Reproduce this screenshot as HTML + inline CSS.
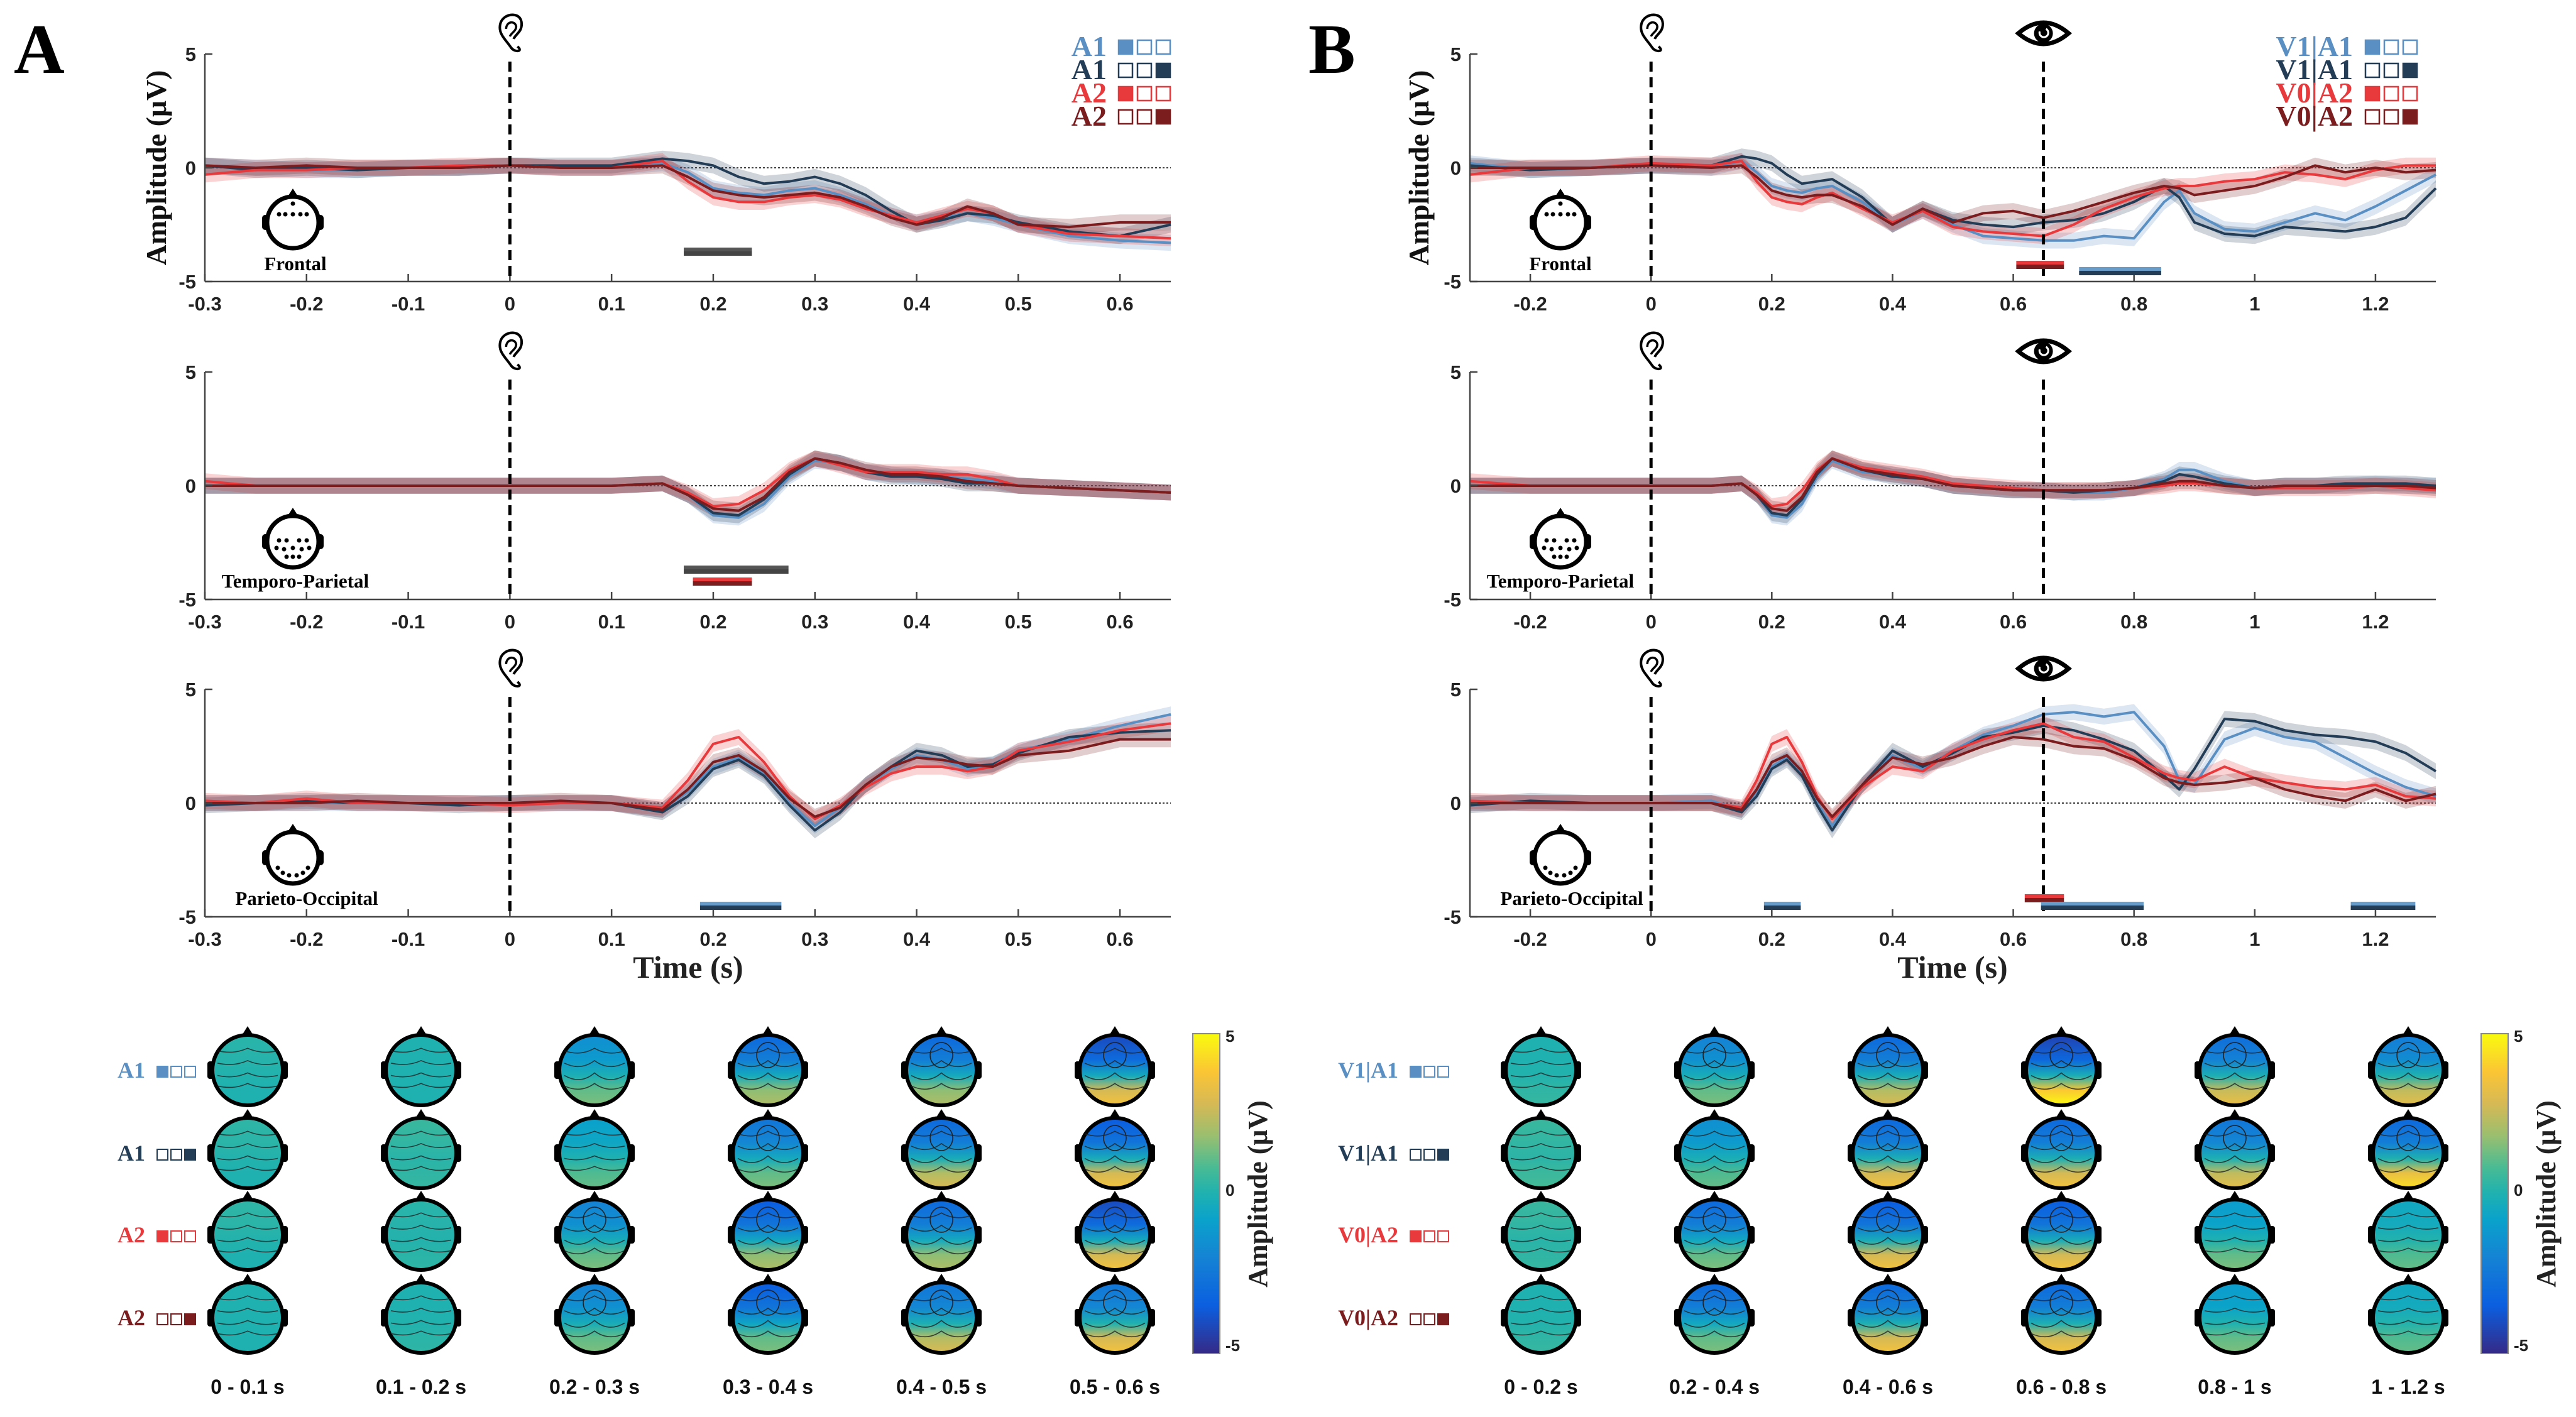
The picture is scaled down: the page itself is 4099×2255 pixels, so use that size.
<!DOCTYPE html>
<html><head><meta charset="utf-8"><style>
html,body{margin:0;padding:0;background:#fff}
svg{display:block}
text{font-family:"Liberation Sans",sans-serif}
.serif{font-family:"Liberation Serif",serif;font-weight:bold}
</style></head>
<body>
<svg id="fig" xmlns="http://www.w3.org/2000/svg" width="4099" height="2255" viewBox="0 0 4099 2255"></svg>
<script>
// ---------- DATA ----------
const timesA=[-0.3,-0.25,-0.2,-0.15,-0.1,-0.05,0,0.05,0.1,0.15,0.175,0.2,0.225,0.25,0.275,0.3,0.325,0.35,0.375,0.4,0.425,0.45,0.475,0.5,0.55,0.6,0.65];
const timesB=[-0.3,-0.2,-0.1,0,0.1,0.15,0.175,0.2,0.225,0.25,0.275,0.3,0.35,0.4,0.45,0.5,0.55,0.6,0.65,0.7,0.75,0.8,0.85,0.875,0.9,0.95,1.0,1.05,1.1,1.15,1.2,1.25,1.3];
const ticksA=[-0.3,-0.2,-0.1,0,0.1,0.2,0.3,0.4,0.5,0.6];
const tickLabelsA=["-0.3","-0.2","-0.1","0","0.1","0.2","0.3","0.4","0.5","0.6"];
const ticksB=[-0.2,0,0.2,0.4,0.6,0.8,1,1.2];
const tickLabelsB=["-0.2","0","0.2","0.4","0.6","0.8","1","1.2"];
const yTicks=[5,0,-5];
const yTickLabels=["5","0","-5"];
// Panel A, Frontal
const aFrLight=[0.1,0,-0.1,-0.1,0,0,0.1,0,0,0.2,-0.2,-0.9,-1.1,-1.2,-1.0,-0.9,-1.2,-1.6,-2.1,-2.4,-2.2,-2.0,-2.2,-2.5,-3.0,-3.2,-3.3];
const aFrNavy=[0.1,-0.1,0,-0.1,0,0,0.1,0.1,0.1,0.4,0.3,0.1,-0.4,-0.7,-0.6,-0.4,-0.7,-1.2,-1.9,-2.5,-2.3,-2.0,-2.1,-2.4,-2.8,-3.0,-2.5];
const aFrRed=[-0.3,-0.1,-0.1,0,0,0.1,0.1,0,0,0.3,-0.6,-1.3,-1.5,-1.5,-1.3,-1.2,-1.4,-1.8,-2.1,-2.4,-2.1,-1.8,-2.0,-2.5,-2.9,-3.0,-3.1];
const aFrDark=[0.1,0,0.1,0,0,0,0.1,0,0,0.1,-0.4,-1.0,-1.2,-1.3,-1.2,-1.1,-1.3,-1.7,-2.2,-2.5,-2.2,-1.7,-2.0,-2.5,-2.6,-2.4,-2.4];
// Panel A, Temporo-Parietal
const aTpLight=[0,0,0,0,0,0,0,0,0,0.1,-0.4,-1.3,-1.4,-0.8,0.4,1.1,1.0,0.6,0.5,0.4,0.4,0.3,0.2,0,-0.1,-0.2,-0.3];
const aTpNavy=[0,0,0,0,0,0,0,0,0,0.1,-0.4,-1.2,-1.3,-0.6,0.5,1.2,1.0,0.6,0.4,0.4,0.3,0.1,0.1,0,-0.1,-0.2,-0.3];
const aTpRed=[0.2,0,0,0,0,0,0,0,0,0.1,-0.3,-0.9,-0.8,-0.2,0.7,1.2,0.9,0.6,0.6,0.6,0.5,0.5,0.3,0,-0.1,-0.2,-0.3];
const aTpDark=[0,0,0,0,0,0,0,0,0,0.1,-0.4,-1.0,-1.1,-0.5,0.6,1.2,1.0,0.7,0.5,0.5,0.4,0.2,0.1,0,-0.1,-0.2,-0.3];
// Panel A, Parieto-Occipital
const aPoLight=[0,0,0,0,0,0,0,0,0,-0.3,0.5,1.6,2.0,1.3,0,-1.0,-0.2,0.8,1.5,2.1,1.9,1.5,1.7,2.3,2.8,3.4,3.9];
const aPoNavy=[-0.1,0,0.1,0,0,-0.1,0,0,0,-0.4,0.3,1.5,1.9,1.2,-0.1,-1.2,-0.4,0.8,1.6,2.3,2.1,1.6,1.7,2.2,2.9,3.1,3.2];
const aPoRed=[0.1,0,0.2,0,0,0,-0.1,0,0,-0.2,1.0,2.6,2.9,1.8,0.3,-0.7,-0.1,0.7,1.3,1.6,1.6,1.4,1.6,2.3,2.7,3.2,3.5];
const aPoDark=[0,0,0,0.1,0,0,0,0.1,0,-0.3,0.6,1.8,2.1,1.4,0.2,-0.6,-0.2,0.8,1.6,2.0,1.9,1.7,1.6,2.1,2.3,2.8,2.8];
// Panel B, Frontal
const bFrLight=[0.2,-0.1,0,0.1,0,0.3,-0.2,-0.8,-1.0,-1.1,-0.9,-0.8,-1.5,-2.5,-1.9,-2.5,-3.0,-3.1,-3.2,-3.2,-3.0,-3.1,-1.5,-1.0,-2.0,-2.7,-2.8,-2.4,-2.0,-2.3,-1.7,-1.0,-0.3];
const bFrNavy=[0.1,-0.1,0,0.1,0.1,0.5,0.4,0.2,-0.3,-0.7,-0.6,-0.5,-1.3,-2.5,-1.8,-2.3,-2.5,-2.6,-2.4,-2.3,-2.0,-1.5,-0.8,-1.3,-2.4,-2.9,-3.0,-2.6,-2.7,-2.8,-2.6,-2.2,-0.9];
const bFrRed=[-0.3,0,0,0.2,0.1,0.3,-0.6,-1.3,-1.5,-1.6,-1.3,-1.1,-1.8,-2.4,-1.9,-2.6,-2.8,-2.9,-3.0,-2.5,-1.8,-1.3,-0.9,-0.8,-0.8,-0.6,-0.5,-0.2,-0.3,-0.5,-0.1,0.1,0.1];
const bFrDark=[0,0,0,0.1,0,0.1,-0.4,-1.0,-1.2,-1.3,-1.2,-1.2,-1.7,-2.5,-1.8,-2.4,-2.0,-1.9,-2.2,-1.9,-1.5,-1.1,-0.8,-0.9,-1.2,-1.0,-0.8,-0.4,0.1,-0.2,0,-0.2,-0.1];
// Panel B, Temporo-Parietal
const bTpLight=[0,0,0,0,0,0.1,-0.4,-1.3,-1.4,-0.8,0.4,1.1,0.6,0.5,0.3,0,-0.1,-0.2,-0.2,-0.3,-0.3,-0.1,0.3,0.7,0.7,0.2,-0.1,0,0,0,0.1,0,0];
const bTpNavy=[0,0,0,0,0,0.1,-0.4,-1.2,-1.3,-0.6,0.5,1.2,0.7,0.4,0.3,0,-0.1,-0.2,-0.2,-0.3,-0.2,-0.1,0.2,0.5,0.4,0.1,-0.1,0,0,0.1,0.1,0.1,0];
const bTpRed=[0.2,0,0,0,0,0.1,-0.3,-0.9,-0.8,-0.2,0.7,1.2,0.8,0.6,0.4,0.1,0,-0.1,-0.2,-0.2,-0.2,-0.1,0,0.1,0.1,0,-0.1,-0.1,-0.1,-0.1,0,-0.1,-0.2];
const bTpDark=[0,0,0,0,0,0.1,-0.4,-1.0,-1.1,-0.5,0.6,1.2,0.7,0.5,0.3,0,-0.1,-0.2,-0.2,-0.2,-0.2,-0.1,0.1,0.2,0.2,0,-0.1,0,0,0,0,0,-0.1];
// Panel B, Parieto-Occipital
const bPoLight=[0,0,0,0,0.1,-0.3,0.5,1.6,2.0,1.3,0,-1.0,0.8,2.1,1.5,2.3,3.0,3.4,3.9,4.0,3.8,4.0,2.5,1.0,0.8,2.8,3.3,2.9,2.7,2.0,1.3,0.7,0.3];
const bPoNavy=[-0.1,0.1,0,0,0,-0.4,0.3,1.5,1.9,1.2,-0.1,-1.2,0.8,2.3,1.6,2.2,2.9,3.1,3.4,3.2,2.8,2.3,1.2,0.6,1.5,3.7,3.6,3.2,3.0,2.9,2.7,2.2,1.4];
const bPoRed=[0.1,0,0,0,0,-0.2,1.0,2.6,2.9,1.8,0.3,-0.7,0.7,1.6,1.4,2.3,2.8,3.2,3.5,2.9,2.7,2.0,1.3,1.1,1.0,1.6,1.1,0.9,0.7,0.6,0.8,0.3,0.2];
const bPoDark=[0,0,0,0,0,-0.3,0.6,1.8,2.1,1.4,0.2,-0.6,0.8,2.0,1.7,2.0,2.5,2.9,2.8,2.5,2.4,1.9,1.1,0.9,0.8,0.9,1.1,0.6,0.3,0.1,0.6,0.1,0.4];
// Significance bars: [row, start time, end time, style]
const sigA=[[0,0.171,0.238,"grey"],[1,0.171,0.274,"grey"],[1,0.18,0.238,"red"],[2,0.187,0.267,"blue"]];
const sigB=[[0,0.605,0.684,"red"],[0,0.709,0.845,"blue"],[2,0.187,0.248,"blue"],[2,0.619,0.684,"red"],[2,0.646,0.816,"blue"],[2,1.159,1.266,"blue"]];
// Topomap values (top / bottom of scalp, µV)
const topoATop=[[0.2,0,-1.5,-3,-3,-4],[0.3,0.5,-0.8,-2.5,-3,-3.5],[0.3,0.2,-2,-3.5,-3,-4],[0,0,-2,-3.5,-2.5,-2.5]];
const topoABot=[[0,0,1.0,1.5,1.5,2.5],[0,0.3,0.8,1.0,2.0,2.5],[0,0.2,1,1.5,1.5,2.5],[0,0.2,1,1,2,2.5]];
const topoBTop=[[0,-2,-3,-4.2,-2.8,-2.2],[0.5,-1.5,-3,-3,-2.5,-3],[0.5,-3,-3.5,-3.5,-1,-0.5],[0,-3,-3,-3,-1,-0.5]];
const topoBBot=[[0.3,1,2,3.5,2.3,2.2],[0.5,0.8,2.5,2.5,2.2,3],[0.3,1,2.5,2.5,1,0.8],[0.3,1,2.5,2.5,1,0.8]];
const topoAWindows=["0 - 0.1 s","0.1 - 0.2 s","0.2 - 0.3 s","0.3 - 0.4 s","0.4 - 0.5 s","0.5 - 0.6 s"];
const topoBWindows=["0 - 0.2 s","0.2 - 0.4 s","0.4 - 0.6 s","0.6 - 0.8 s","0.8 - 1 s","1 - 1.2 s"];

// ---------- LAYOUT ----------
const NS="http://www.w3.org/2000/svg";
const svg=document.getElementById('fig');
const COL={light:"#5a8fc3",navy:"#243d57",red:"#e8393d",dark:"#7b1c1f"};
const rows=[{y0:86,y1:448},{y0:592,y1:954},{y0:1097,y1:1459}];
const panels={
 A:{x0:326,x1:1863,t0:-0.3,t1:0.65,times:timesA,ticks:ticksA,tl:tickLabelsA,sig:sigA,
   series:[[aFrLight,aFrNavy,aFrRed,aFrDark],[aTpLight,aTpNavy,aTpRed,aTpDark],[aPoLight,aPoNavy,aPoRed,aPoDark]],
   headX:466,labX:470},
 B:{x0:2339,x1:3876,t0:-0.3,t1:1.3,times:timesB,ticks:ticksB,tl:tickLabelsB,sig:sigB,
   series:[[bFrLight,bFrNavy,bFrRed,bFrDark],[bTpLight,bTpNavy,bTpRed,bTpDark],[bPoLight,bPoNavy,bPoRed,bPoDark]],
   headX:2483,labX:2483}
};
function el(tag,attrs,parent){const e=document.createElementNS(NS,tag);for(const k in attrs)e.setAttribute(k,attrs[k]);(parent||svg).appendChild(e);return e;}
function txt(s,attrs,parent){const e=el('text',attrs,parent);e.textContent=s;return e;}
function xs(p,t){return p.x0+(t-p.t0)/(p.t1-p.t0)*(p.x1-p.x0);}
function ys(r,v){return rows[r].y0+(5-v)/10*(rows[r].y1-rows[r].y0);}

function earIcon(g,cx,cy){
  el('path',{d:`M${cx+12},${cy+22} C${cx+22},${cy+30} ${cx+8},${cy+32} ${cx+2},${cy+24} C${cx-6},${cy+12} ${cx-16},${cy+4} ${cx-16},${cy-8} C${cx-16},${cy-24} ${cx-2},${cy-30} ${cx+8},${cy-28} C${cx+18},${cy-26} ${cx+20},${cy-16} ${cx+18},${cy-8} C${cx+16},${cy} ${cx+8},${cy+4} ${cx+6},${cy+10}`,fill:'none',stroke:'#000','stroke-width':4},g);
  el('path',{d:`M${cx-6},${cy-6} C${cx-6},${cy-18} ${cx+8},${cy-20} ${cx+10},${cy-10} C${cx+10},${cy-2} ${cx+2},${cy} ${cx},${cy+6}`,fill:'none',stroke:'#000','stroke-width':3.5},g);
}
function eyeIcon(g,cx,cy){
  el('path',{d:`M${cx-40},${cy} Q${cx},${cy-34} ${cx+40},${cy} Q${cx},${cy+34} ${cx-40},${cy} Z`,fill:'#fff',stroke:'#000','stroke-width':7},g);
  el('circle',{cx:cx,cy:cy,r:15,fill:'#000'},g);
  el('path',{d:`M${cx-6},${cy-3} A7,7 0 1 0 ${cx+4},${cy-7}`,fill:'none',stroke:'#fff','stroke-width':3},g);
}
function headIcon(g,cx,cy,kind){
  el('rect',{x:cx-49,y:cy-12,width:12,height:24,rx:5,fill:'#000'},g);
  el('rect',{x:cx+37,y:cy-12,width:12,height:24,rx:5,fill:'#000'},g);
  el('path',{d:`M${cx-9},${cy-40} L${cx},${cy-54} L${cx+9},${cy-40}Z`,fill:'#000'},g);
  el('circle',{cx:cx,cy:cy,r:41,fill:'#fff',stroke:'#000','stroke-width':7},g);
  let pts=[];
  if(kind===0){pts=[[-22,-13],[-12,-13],[0,-13],[12,-13],[22,-13],[0,-30]];}
  else if(kind===1){pts=[[-22,-2],[-10,-2],[10,-2],[22,-2],[-26,10],[-14,12],[0,10],[14,12],[26,10],[-10,24],[10,24],[0,24]];}
  else {pts=[[-24,16],[-16,24],[-6,28],[6,28],[16,24],[24,16]];}
  pts.forEach(p=>el('circle',{cx:cx+p[0],cy:cy+p[1],r:3.5,fill:'#000'},g));
}

const regionNames=["Frontal","Temporo-Parietal","Parieto-Occipital"];
const headYs=[354,862,1365];
const labYs=[430,935,1440];

Object.keys(panels).forEach(key=>{
  const p=panels[key];
  const pg=el('g',{});
  
  
  rows.forEach((r,ri)=>{
    const g=el('g',{},pg);
    
    
    const zl=el('line',{x1:p.x0,x2:p.x1,y1:ys(ri,0),y2:ys(ri,0),stroke:'#000','stroke-width':1.6,'stroke-dasharray':'3 3'},g);
    
    
    const order=[0,1,2,3];
    const names=['light','navy','red','dark'];
    order.forEach(si=>{
      const vals=p.series[ri][si];
      let up='',dn='';
      p.times.forEach((t,i)=>{up+=(i?'L':'M')+xs(p,t).toFixed(1)+','+ys(ri,vals[i]+0.35).toFixed(1);});
      for(let i=p.times.length-1;i>=0;i--){dn+='L'+xs(p,p.times[i]).toFixed(1)+','+ys(ri,vals[i]-0.35).toFixed(1);}
      const band=el('path',{d:up+dn+'Z',fill:COL[names[si]],'fill-opacity':0.22,stroke:'none'},g);
      
      
    });
    order.forEach(si=>{
      const vals=p.series[ri][si];
      let d='';
      p.times.forEach((t,i)=>{d+=(i?'L':'M')+xs(p,t).toFixed(1)+','+ys(ri,vals[i]).toFixed(1);});
      const ln=el('path',{d:d,fill:'none',stroke:COL[names[si]],'stroke-width':4,'stroke-linejoin':'round'},g);
      
      
    });
    el('line',{x1:p.x0,x2:p.x0,y1:r.y0,y2:r.y1,stroke:'#444','stroke-width':2.5},g);
    el('line',{x1:p.x0,x2:p.x1,y1:r.y1,y2:r.y1,stroke:'#444','stroke-width':2.5},g);
    p.ticks.forEach((t,i)=>{
      const x=xs(p,t);
      el('line',{x1:x,x2:x,y1:r.y1,y2:r.y1-12,stroke:'#444','stroke-width':2.5},g);
      const tl=txt(p.tl[i],{x:x,y:r.y1+46,'text-anchor':'middle','font-size':31,'font-weight':'bold',fill:'#222'},g);
      
      
    });
    yTicks.forEach((v,i)=>{
      const y=ys(ri,v);
      el('line',{x1:p.x0,x2:p.x0+12,y1:y,y2:y,stroke:'#444','stroke-width':2.5},g);
      const tl=txt(yTickLabels[i],{x:p.x0-14,y:y+11,'text-anchor':'end','font-size':31,'font-weight':'bold',fill:'#222'},g);
      
      
    });
    const dl=el('line',{x1:xs(p,0),x2:xs(p,0),y1:r.y0+12,y2:r.y1,stroke:'#000','stroke-width':5,'stroke-dasharray':'16 9'},g);
    
    
    const ear=el('g',{},g);
    
    
    earIcon(ear,xs(p,0),r.y0-34);
    if(key==='B'){
      const dl2=el('line',{x1:xs(p,0.65),x2:xs(p,0.65),y1:r.y0+12,y2:r.y1,stroke:'#000','stroke-width':5,'stroke-dasharray':'16 9'},g);
      
      
      const eye=el('g',{},g);
      
      
      eyeIcon(eye,xs(p,0.65),r.y0-33);
    }
    const hi=el('g',{},g);
    
    
    headIcon(hi,p.headX,headYs[ri],ri);
    const rl=txt(regionNames[ri],{x:p.labX+(ri===2?18:0),y:labYs[ri],'text-anchor':'middle','font-size':31,class:'serif'},g);
    
    
  });
  p.sig.forEach(s=>{
    const ri=s[0],xa=xs(p,s[1]),xb=xs(p,s[2]);
    let yb;
    if(key==='A'){yb=ri===0?400:(ri===1?(s[3]==='grey'?906:925):1441);}
    else{yb=ri===0?(s[3]==='red'?421:431):(s[3]==='red'?1429:1441);}
    const c1=s[3]==='grey'?'#555':(s[3]==='red'?'#e8393d':'#6a9cc9');
    const c2=s[3]==='grey'?'#444':(s[3]==='red'?'#7b1c1f':'#243d57');
    const sg=el('g',{},pg);
    
    
    el('rect',{x:xa,y:yb-6,width:xb-xa,height:6,fill:c1},sg);
    el('rect',{x:xa,y:yb,width:xb-xa,height:7,fill:c2},sg);
  });
});

[[250,'a'],[2259,'b']].forEach(o=>{
  const t=txt('Amplitude (\u03BCV)',{x:0,y:0,transform:`translate(${o[0]+14},267) rotate(-90)`,'text-anchor':'middle','font-size':46,class:'serif',fill:'#111'});
  
  
});
[['A',22],['B',2082]].forEach(o=>{
  const t=txt(o[0],{x:o[1],y:116,'font-size':112,class:'serif',fill:'#000'});
  
  
});
[[1095,'a'],[3107,'b']].forEach(o=>{
  const t=txt('Time (s)',{x:o[0],y:1556,'text-anchor':'middle','font-size':50,class:'serif',fill:'#222'});
  
  
});

function squares(g,x,y,color,fillIdx){
  for(let i=0;i<3;i++){
    el('rect',{x:x+i*30,y:y-22,width:22,height:22,fill:i===fillIdx?color:'#fff',stroke:color,'stroke-width':2.5},g);
  }
}
const legA=[['A1',COL.light,0],['A1',COL.navy,2],['A2',COL.red,0],['A2',COL.dark,2]];
const legB=[['V1|A1',COL.light,0],['V1|A1',COL.navy,2],['V0|A2',COL.red,0],['V0|A2',COL.dark,2]];
[[legA,1761,1780,'a'],[legB,3744,3764,'b']].forEach(L=>{
  L[0].forEach((e,i)=>{
    const g=el('g',{});
    
    
    const y=87+i*37;
    txt(e[0],{x:L[1],y:y+2,'text-anchor':'end','font-size':46,class:'serif',fill:e[1]},g);
    squares(g,L[2],y-1,e[1],e[2]);
  });
});

// ---------- TOPOMAPS ----------
const stops=[[0,'#352a87'],[0.15,'#0b5fe0'],[0.3,'#1583d4'],[0.42,'#0aa2cb'],[0.5,'#1fb1b0'],[0.58,'#48bb94'],[0.68,'#99bf6f'],[0.78,'#d6b955'],[0.88,'#fbc535'],[1,'#f9fb0e']];
function hex(c){return [parseInt(c.slice(1,3),16),parseInt(c.slice(3,5),16),parseInt(c.slice(5,7),16)];}
function cmap(v){let f=Math.max(0,Math.min(1,(v+5)/10));
  for(let i=1;i<stops.length;i++){if(f<=stops[i][0]){const a=stops[i-1],b=stops[i];const u=(f-a[0])/(b[0]-a[0]);const A=hex(a[1]),B=hex(b[1]);
    return 'rgb('+A.map((x,k)=>Math.round(x+(B[k]-x)*u)).join(',')+')';}}
  return stops[stops.length-1][1];}
const defs=el('defs',{});
const cg=el('linearGradient',{id:'cbar',x1:0,y1:1,x2:0,y2:0},defs);
stops.forEach(s=>el('stop',{offset:s[0],'stop-color':s[1]},cg));

const rowYs=[1703,1835,1965,2097];
const topoCfg=[
 {key:'a',cols:[394,670,946,1222,1498,1774],top:topoATop,bot:topoABot,win:topoAWindows,labels:legA,labX:231,sqX:250,cb:1898},
 {key:'b',cols:[2452,2728,3004,3280,3556,3832],top:topoBTop,bot:topoBBot,win:topoBWindows,labels:legB,labX:2225,sqX:2244,cb:3948}
];
let gid=0;
topoCfg.forEach(T=>{
  T.labels.forEach((e,ri)=>{
    const g=el('g',{});
    
    
    txt(e[0],{x:T.labX,y:rowYs[ri]+12,'text-anchor':'end','font-size':36,class:'serif',fill:e[1]},g);
    for(let i=0;i<3;i++)el('rect',{x:T.sqX+i*22,y:rowYs[ri]-6,width:17,height:17,fill:i===e[2]?e[1]:'#fff',stroke:e[1],'stroke-width':2},g);
  });
  T.cols.forEach((cx,ci)=>{
    rowYs.forEach((cy,ri)=>{
      const tv=T.top[ri][ci],bv=T.bot[ri][ci];
      const id='tg'+(gid++);
      const lg=el('linearGradient',{id:id,x1:0,y1:0,x2:0,y2:1},defs);
      el('stop',{offset:0.05,'stop-color':cmap(tv)},lg);
      el('stop',{offset:0.35,'stop-color':cmap(tv*0.75)},lg);
      el('stop',{offset:0.58,'stop-color':cmap((tv+bv)/2*0.5)},lg);
      el('stop',{offset:0.78,'stop-color':cmap(bv*1.1)},lg);
      el('stop',{offset:1,'stop-color':cmap(bv*1.45)},lg);
      const g=el('g',{});
      
      
      el('rect',{x:cx-64,y:cy-14,width:11,height:28,rx:4,fill:'#000'},g);
      el('rect',{x:cx+53,y:cy-14,width:11,height:28,rx:4,fill:'#000'},g);
      el('path',{d:`M${cx-10},${cy-54} L${cx},${cy-70} L${cx+10},${cy-54}Z`,fill:'#000'},g);
      el('circle',{cx:cx,cy:cy,r:56,fill:`url(#${id})`,stroke:'#000','stroke-width':6},g);
      [[-0.55,22],[-0.2,32],[0.15,38],[0.45,30]].forEach(c=>{
        const yy=cy+c[0]*56;
        el('path',{d:`M${cx-48},${yy} Q${cx-22},${yy+(tv<-1?c[1]*0.4:6)} ${cx},${yy-4} Q${cx+22},${yy+(tv<-1?c[1]*0.4:6)} ${cx+48},${yy}`,fill:'none',stroke:'#222','stroke-width':1.6,'stroke-opacity':0.8},g);
      });
      if(tv<-1.5)el('ellipse',{cx:cx,cy:cy-24,rx:18,ry:20,fill:'none',stroke:'#222','stroke-width':1.6},g);
    });
    const wl=txt(T.win[ci],{x:cx,y:2218,'text-anchor':'middle','font-size':32,'font-weight':'bold',fill:'#111'});
    
    
  });
  const cb=el('g',{});
  
  
  el('rect',{x:T.cb,y:1645,width:43,height:509,fill:'url(#cbar)',stroke:'#888','stroke-width':2},cb);
  [['5',1658],['0',1903],['-5',2150]].forEach(t=>txt(t[0],{x:T.cb+52,y:t[1],'font-size':26,'font-weight':'bold',fill:'#222'},cb));
  txt('Amplitude (\u03BCV)',{x:0,y:0,transform:`translate(${T.cb+118},1900) rotate(-90)`,'text-anchor':'middle','font-size':44,class:'serif',fill:'#222'},cb);
});
</script>
</body></html>
